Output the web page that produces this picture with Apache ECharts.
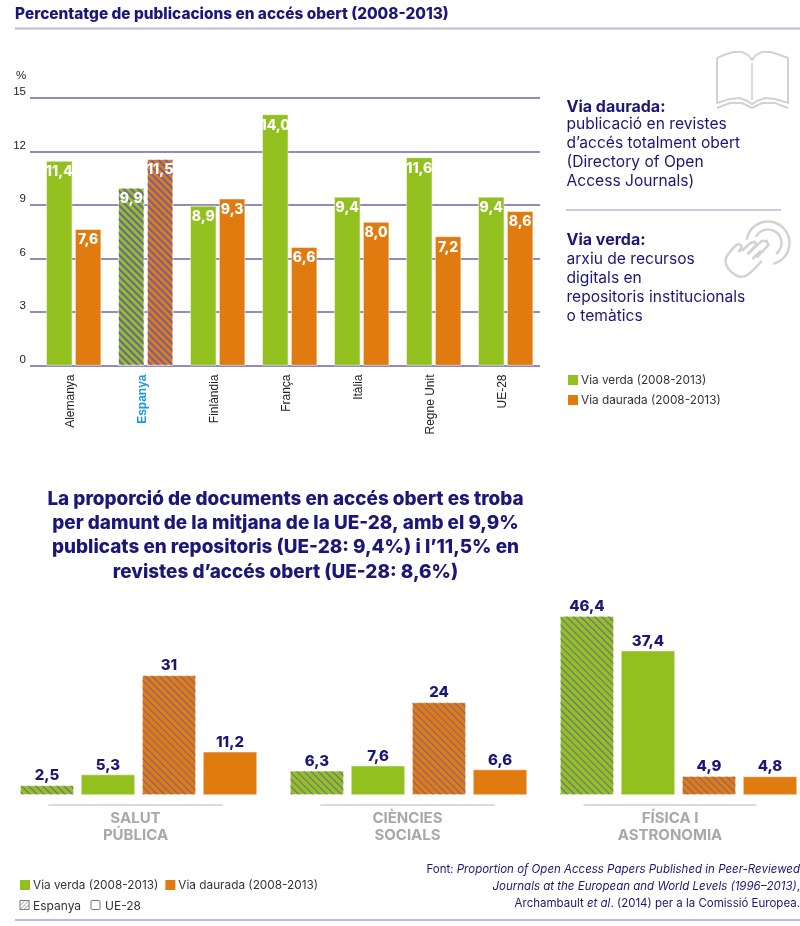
<!DOCTYPE html>
<html><head><meta charset="utf-8">
<style>html,body{margin:0;padding:0;background:#fff}#c{width:800px;height:926px}</style>
<script src="https://cdn.jsdelivr.net/npm/echarts@6/dist/echarts.min.js"></script></head>
<body><div id="c"></div>
<script>
var countries=['Alemanya','Espanya','Finlàndia','França','Itàlia','Regne Unit','UE-28'];
var verda=[11.4,9.9,8.9,14.0,9.4,11.6,9.4];
var daurada=[7.6,11.5,9.3,6.6,8.0,7.2,8.6];
var fields=['SALUT\nPÚBLICA','CIÈNCIES\nSOCIALS','FÍSICA I\nASTRONOMIA'];
var espanyaVerda=[2.5,6.3,46.4];
var ueVerda=[5.3,7.6,37.4];
var espanyaDaurada=[31,24,4.9];
var ueDaurada=[11.2,6.6,4.8];
var nameVerda='Via verda (2008-2013)', nameDaurada='Via daurada (2008-2013)';

var GREEN='#92c01f',ORANGE='#e07b10',NAVY='#1c1678',PURPLE='#6f63ab',RULE='#bdb9da',GREY='#a9a7a8',ICON='#d2d2d2';
var F='Inter, "Liberation Sans", sans-serif';
function comma(v,d){return (d?v.toFixed(1):String(v)).replace('.',',');}
function hatch(w,g){return {symbol:'rect',symbolSize:1,dashArrayX:[1,0],dashArrayY:[w,g],rotation:Math.PI/4,color:'#6f5fa8'};}
function txt(x,y,text,font,fill,extra){var s={text:text,font:font,fill:fill,verticalAlign:'top'};for(var k in extra)s[k]=extra[k];return {type:'text',x:x,y:y,style:s};}
function poly(pts,w,smooth){return {type:'polyline',shape:{points:pts,smooth:smooth||0},style:{fill:'none',stroke:ICON,lineWidth:w||2}};}
function hp(arr){return arr.map(function(p){return [715+p[0]/3,215+p[1]/3];});}
var ch=echarts.init(document.getElementById('c'),null,{renderer:'canvas'});
var labelAxes=fields.map(function(f,i){return {type:'category',gridIndex:2+i,data:[f],
  axisLine:{lineStyle:{color:'#cfcfd2',width:1.5}},axisTick:{show:false},
  axisLabel:{margin:5,fontFamily:F,fontWeight:'bold',fontSize:15,lineHeight:17,color:GREY,interval:0}};});
function hiddenY(i){return {type:'value',gridIndex:i,min:0,max:1,show:false};}
var topLabel={show:true,position:'insideTop',distance:4,formatter:function(p){return comma(p.value,true);},color:'#fff',fontFamily:F,fontWeight:800,fontSize:14};
var option={
 animation:false,backgroundColor:'#fff',
 grid:[
  {left:30,width:510,top:98,height:267.5},
  {left:37.7,width:504,top:96.5,height:269},
  {left:49,width:173,top:790,height:14.5},
  {left:321,width:173,top:790,height:14.5},
  {left:584,width:172,top:790,height:14.5},
  {left:138.5,width:540,top:795-231.6,height:231.6},
  {left:34.2,width:504,top:98,height:267.5}
 ],
 xAxis:[
  {type:'category',gridIndex:0,data:countries,show:false},
  {type:'category',gridIndex:1,data:countries,show:false}
 ].concat(labelAxes).concat([
  {type:'category',gridIndex:5,data:fields,show:false,boundaryGap:false},
  {type:'category',gridIndex:6,data:countries,axisLine:{show:false},axisTick:{show:false},
   axisLabel:{rotate:90,interval:0,margin:9,fontFamily:'"Liberation Sans"',fontSize:12,color:'#222',
    formatter:function(v){return v==='Espanya'?'{e|'+v+'}':v;},
    rich:{e:{color:'#1b97dc',fontWeight:'bold',fontFamily:'"Liberation Sans"',fontSize:12}}}}
 ]),
 yAxis:[
  {type:'value',gridIndex:0,min:0,max:15,interval:3,axisLine:{show:false},axisTick:{show:false},
   splitLine:{lineStyle:{color:PURPLE,width:1.5}},
   axisLabel:{margin:4,verticalAlign:'bottom',fontFamily:'"Liberation Sans"',fontSize:11.5,color:'#222'}},
  {type:'value',gridIndex:1,min:0,max:15,show:false},
  hiddenY(2),hiddenY(3),hiddenY(4),
  {type:'value',gridIndex:5,min:0,max:60,show:false},
  {type:'value',gridIndex:6,min:0,max:15,show:false}
 ],
 legend:[
  {data:[nameVerda,nameDaurada],orient:'vertical',left:568,top:374,padding:0,itemWidth:10,itemHeight:10,itemGap:8,selectedMode:false,
   itemStyle:{borderWidth:0},textStyle:{fontFamily:F,fontSize:11.8,color:'#333',padding:[0,0,0,-2]},icon:'rect'},
  {data:[nameVerda,nameDaurada],orient:'horizontal',left:20,top:879,padding:0,itemWidth:10,itemHeight:10,itemGap:7,selectedMode:false,
   itemStyle:{borderWidth:0},textStyle:{fontFamily:F,fontSize:11.8,color:'#333',padding:[0,0,0,-2]},icon:'rect'}
 ],
 series:[
  {name:nameVerda,type:'bar',xAxisIndex:1,yAxisIndex:1,barWidth:26,barGap:'11%',z:3,
   itemStyle:{color:GREEN,borderColor:'#fff',borderWidth:.5},
   data:verda.map(function(v,i){return i===1?{value:v,itemStyle:{color:GREEN,decal:hatch(1.3,2.2)}}:v;}),
   label:topLabel},
  {name:nameDaurada,type:'bar',xAxisIndex:1,yAxisIndex:1,barWidth:26,z:3,
   itemStyle:{color:ORANGE,borderColor:'#fff',borderWidth:.5},
   data:daurada.map(function(v,i){return i===1?{value:v,itemStyle:{color:ORANGE,decal:hatch(1.3,2.2)}}:v;}),
   label:topLabel}
 ].concat([[espanyaVerda,GREEN,nameVerda,true],[ueVerda,GREEN,nameVerda,false],[espanyaDaurada,ORANGE,nameDaurada,true],[ueDaurada,ORANGE,nameDaurada,false]].map(function(s){
   var st={color:s[1],borderColor:'#fff',borderWidth:.5};
   if(s[3])st.decal=hatch(1,3.4);
   return {name:s[2],type:'bar',xAxisIndex:5,yAxisIndex:5,barWidth:54,barGap:'13%',clip:false,itemStyle:st,data:s[0],
     label:{show:true,position:'top',distance:2,formatter:function(p){return comma(p.value,p.value%1!==0);},color:NAVY,fontFamily:F,fontWeight:800,fontSize:15}};
 })),
 graphic:[
  txt(15,7,'Percentatge de publicacions en accés obert (2008-2013)','800 15.4px '+F,NAVY),
  {type:'line',shape:{x1:15,y1:28.5,x2:800,y2:28.5},style:{stroke:RULE,lineWidth:2}},
  {type:'line',shape:{x1:15,y1:920,x2:800,y2:920},style:{stroke:RULE,lineWidth:2}},
  {type:'line',shape:{x1:566,y1:210,x2:781,y2:210},style:{stroke:RULE,lineWidth:1.5}},
  txt(16,70,'%','11.5px "Liberation Sans"','#222'),
  txt(566.5,99,'Via daurada:','bold 16px '+F,NAVY),
  txt(566.5,115,'publicació en revistes\nd’accés totalment obert\n(Directory of Open\nAccess Journals)','15.6px '+F,NAVY,{lineHeight:19}),
  txt(566.5,232,'Via verda:','bold 16px '+F,NAVY),
  txt(566.5,250,'arxiu de recursos\ndigitals en\nrepositoris institucionals\no temàtics','15.6px '+F,NAVY,{lineHeight:19}),
  txt(285.5,487,'La proporció de documents en accés obert es troba\nper damunt de la mitjana de la UE-28, amb el 9,9%\npublicats en repositoris (UE-28: 9,4%) i l’11,5% en\nrevistes d’accés obert (UE-28: 8,6%)','800 18.9px '+F,NAVY,{align:'center',lineHeight:24.3}),
  {type:'rect',shape:{x:20,y:900.5,width:9,height:9},style:{fill:'#fff',stroke:'#777',lineWidth:1}},
  {type:'line',shape:{x1:20,y1:905.5,x2:25,y2:900.5},style:{stroke:'#999',lineWidth:1}},
  {type:'line',shape:{x1:20,y1:909.5,x2:29,y2:900.5},style:{stroke:'#999',lineWidth:1}},
  {type:'line',shape:{x1:24,y1:909.5,x2:29,y2:904.5},style:{stroke:'#999',lineWidth:1}},
  txt(33,900,'Espanya','12px '+F,'#333'),
  {type:'rect',shape:{x:91,y:900.5,width:9,height:9,r:1},style:{fill:'#fff',stroke:'#777',lineWidth:1}},
  txt(105,900,'UE-28','12px '+F,'#333'),
  txt(800,861,'Font: {i|Proportion of Open Access Papers Published in Peer-Reviewed}\n{i|Journals at the European and World Levels (1996–2013)},\nArchambault {i|et al}. (2014) per a la Comissió Europea.','11.5px '+F,NAVY,{align:'right',lineHeight:17,
    rich:{i:{fontStyle:'italic',fontFamily:F,fontSize:11.5,fill:NAVY}}}),
  poly([[717,58],[724,55],[733,52],[742,52],[748,55],[752,60],[756,55],[762,52],[771,52],[780,55],[788,58],[788,103],[775,99],[765,98],[757,101],[752,104],[747,101],[740,98],[730,99],[717,103],[717,58]],2),
  poly([[717,108],[730,103],[742,103],[752,108],[762,103],[775,103],[788,108]],2),
  poly([[752,63],[752,100]],1.5),
  {type:'arc',shape:{cx:768,cy:243,r:21.5,startAngle:Math.PI*1.05,endAngle:Math.PI*0.42,clockwise:true},style:{fill:'none',stroke:ICON,lineWidth:2.5}},
  {type:'arc',shape:{cx:768,cy:243,r:13.5,startAngle:Math.PI*1.15,endAngle:Math.PI*0.3,clockwise:true},style:{fill:'none',stroke:ICON,lineWidth:2.5}},
  poly(hp([[140,138],[100,178],[75,185],[50,172],[33,148],[35,125],[62,92],[72,88],[80,95],[70,112]]),2.5,0.3),
  poly(hp([[80,108],[105,85],[118,80],[125,88],[98,118]]),2.5),
  poly(hp([[100,115],[140,78],[155,78],[160,90],[125,128]]),2.5),
  poly(hp([[112,132],[138,107]]),2.5)
 ]
};
ch.setOption(option);
</script></body></html>
